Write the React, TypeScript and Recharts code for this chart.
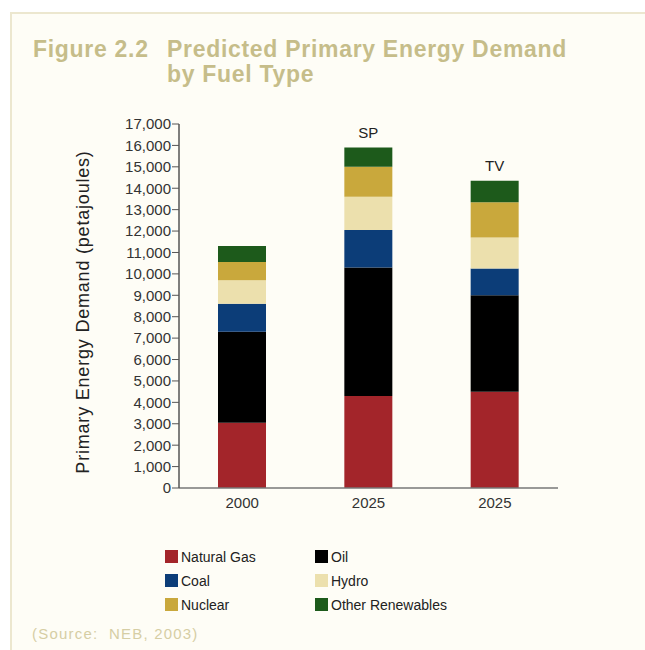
import { Bar, BarChart, LabelList, XAxis, YAxis } from "recharts";

const years = ["2000", "2025", "2025"];
const scenarios = ["", "SP", "TV"];

const naturalGas = [3050, 4300, 4500];
const oil = [4250, 6000, 4500];
const coal = [1300, 1750, 1250];
const hydro = [1100, 1550, 1450];
const nuclear = [850, 1400, 1650];
const otherRenewables = [750, 900, 1000];

const yTicks = [0, 1000, 2000, 3000, 4000, 5000, 6000, 7000, 8000, 9000, 10000, 11000, 12000, 13000, 14000, 15000, 16000, 17000];

const series = [
  { key: "gas", name: "Natural Gas", color: "#a3252a", values: naturalGas },
  { key: "oil", name: "Oil", color: "#000000", values: oil },
  { key: "coal", name: "Coal", color: "#0c3d78", values: coal },
  { key: "hydro", name: "Hydro", color: "#ece0ad", values: hydro },
  { key: "nuclear", name: "Nuclear", color: "#c9a83c", values: nuclear },
  { key: "renew", name: "Other Renewables", color: "#1d5a1b", values: otherRenewables },
];

// legend is laid out in two columns, row by row
const legendOrder = ["gas", "oil", "coal", "hydro", "nuclear", "renew"];

const data = years.map((year, i) => {
  const row: Record<string, string | number> = { idx: i, year, scenario: scenarios[i] };
  series.forEach((s) => (row[s.key] = s.values[i]));
  return row;
});

const font = "'Liberation Sans', Arial, sans-serif";

export default function App() {
  return (
    <div style={{ position: "absolute", left: 0, top: 0, width: 645, height: 650, background: "#ffffff", fontFamily: font }}>
      <div
        style={{
          position: "absolute",
          left: 10,
          top: 12,
          right: 0,
          bottom: 0,
          background: "#fefdf6",
          borderTop: "2px solid #ece7cf",
          borderLeft: "2px solid #ece7cf",
        }}
      />
      <div
        style={{
          position: "absolute",
          left: 33,
          top: 37,
          color: "#c6bd8a",
          fontWeight: "bold",
          fontSize: 23,
          letterSpacing: 0.7,
          lineHeight: "25px",
        }}
      >
        <div style={{ display: "flex" }}>
          <span style={{ width: 134 }}>Figure 2.2</span>
          <span>
            Predicted Primary Energy Demand
            <br />
            by Fuel Type
          </span>
        </div>
      </div>
      <div style={{ position: "absolute", left: 0, top: 0 }}>
        <BarChart width={645} height={650} data={data} margin={{ top: 124, right: 87, left: 60, bottom: 132 }}>
          <XAxis
            dataKey="idx"
            tickFormatter={(i) => years[i]}
            tick={{ fontSize: 15, fill: "#333", fontFamily: font }}
            axisLine={{ stroke: "#777", strokeWidth: 1.5 }}
            tickLine={false}
            tickMargin={3}
          />
          <YAxis
            domain={[0, 17000]}
            ticks={yTicks}
            interval={0}
            width={119}
            tickFormatter={(v) => v.toLocaleString("en-US")}
            tick={{ fontSize: 15, fill: "#333", fontFamily: font }}
            axisLine={{ stroke: "#555", strokeWidth: 1.5 }}
            tickLine={{ stroke: "#555" }}
            tickSize={7}
            tickMargin={1}
          />
          {series.map((s, i) => (
            <Bar key={s.key} dataKey={s.key} name={s.name} stackId="a" fill={s.color} barSize={48} isAnimationActive={false}>
              {i === series.length - 1 && (
                <LabelList dataKey="scenario" position="top" offset={10} style={{ fontSize: 15, fill: "#222", fontFamily: font }} />
              )}
            </Bar>
          ))}
          <text
            x={0}
            y={0}
            transform="translate(89 312) rotate(-90)"
            textAnchor="middle"
            fontSize={18}
            letterSpacing={0.8}
            fill="#222"
            fontFamily={font}
          >
            Primary Energy Demand (petajoules)
          </text>
        </BarChart>
      </div>
      <div
        style={{
          position: "absolute",
          left: 165,
          top: 547,
          display: "grid",
          gridTemplateColumns: "150px 200px",
          rowGap: 5,
          fontSize: 14,
          color: "#222",
        }}
      >
        {legendOrder.map((k) => {
          const s = series.find((x) => x.key === k)!;
          return (
            <div key={k} style={{ display: "flex", alignItems: "center", height: 19 }}>
              <span style={{ width: 13, height: 13, background: s.color, marginRight: 3, display: "inline-block" }} />
              {s.name}
            </div>
          );
        })}
      </div>
      <div style={{ position: "absolute", left: 32, top: 625, fontSize: 15, letterSpacing: 1.2, color: "#d6cea4" }}>(Source:&nbsp; NEB, 2003)</div>
    </div>
  );
}
